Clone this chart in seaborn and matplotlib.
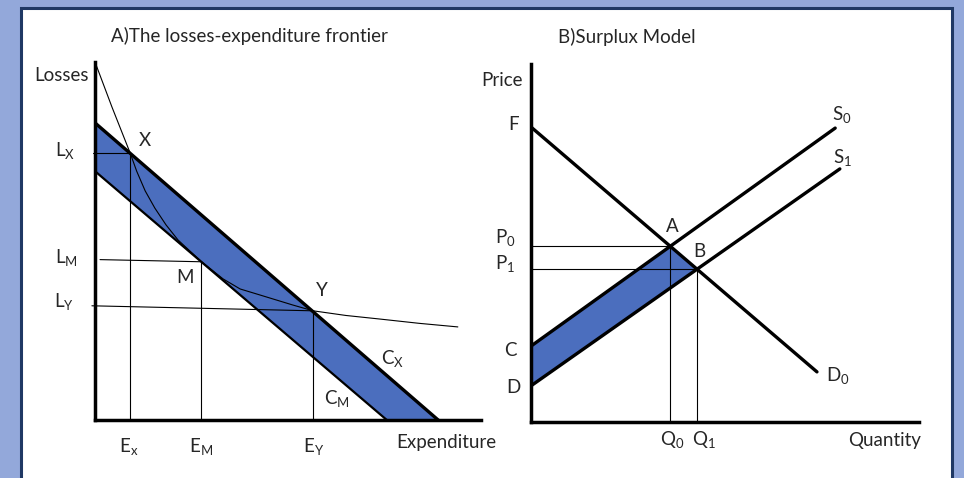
import numpy as np
import pandas as pd
import seaborn as sns
import matplotlib.pyplot as plt
from matplotlib.patches import Rectangle

# ---- panel A: losses-expenditure frontier (diagram units 0-100) ----
cx_line_x = [0, 88.9]
cx_line_y = [83.0, 0]
cm_line_x = [0, 75.6]
cm_line_y = [69.5, 0]
frontier_x = [0, 4.4, 9.1, 10.8, 13.0, 15.5, 18.4, 21.5, 27.5, 33.2, 37.6, 42.8,
              51.3, 56.5, 65.0, 73.8, 84.0, 94.0]
frontier_y = [100, 87.4, 74.6, 69.5, 64.0, 59.2, 54.5, 50.3, 44.3, 39.4, 36.6, 34.9,
              32.1, 30.5, 29.2, 28.2, 27.0, 26.0]
pt_x = (9.1, 74.6)
pt_m = (27.5, 44.2)
pt_y = (56.5, 30.5)
lm_start_y = 44.8
ly_start_y = 31.9

# ---- panel B: surplus model ----
demand_x = [0, 73.7]
demand_y = [82.4, 14.0]
s0_x = [0, 78.4]
s0_y = [21.2, 82.1]
s1_x = [0, 79.6]
s1_y = [10.1, 70.7]
pt_a = (35.8, 49.2)
pt_b = (42.8, 42.7)

BLUE = "#4B6EBE"
BG = "#93A8DA"
NAVY = "#1F3864"

sns.set_style("white")
plt.rcParams['font.family'] = ['Lato', 'DejaVu Sans']
plt.rcParams['mathtext.default'] = 'regular'

fig = plt.figure(figsize=(9.64, 4.78), dpi=100)
fig.patch.set_facecolor(BG)
fig.patches.append(Rectangle((21 / 964, -0.02), 931 / 964, 470 / 478 + 0.02,
                             transform=fig.transFigure, facecolor="white",
                             edgecolor=NAVY, linewidth=2.2, zorder=-10))

axA = fig.add_axes([95 / 964, 58 / 478, 386 / 964, 358 / 478])
axB = fig.add_axes([531 / 964, 56 / 478, 388 / 964, 358 / 478])

for ax in (axA, axB):
    ax.set_facecolor("none")
    ax.set_xlim(0, 100)
    ax.set_ylim(0, 100)
    ax.set_xticks([])
    ax.set_yticks([])
    sns.despine(ax=ax)
    for s in ("left", "bottom"):
        ax.spines[s].set_linewidth(2.5)
        ax.spines[s].set_color("black")

FS = 13.5
thin = dict(color="black", linewidth=0.8)
lab = dict(fontsize=FS, ha="center", va="center", clip_on=False)

# panel A
axA.fill([cx_line_x[0], cx_line_x[1], cm_line_x[1], cm_line_x[0]],
         [cx_line_y[0], cx_line_y[1], cm_line_y[1], cm_line_y[0]],
         color=BLUE, zorder=1, linewidth=0)
sns.lineplot(x=cx_line_x, y=cx_line_y, ax=axA, color="black", linewidth=2.4)
sns.lineplot(x=cm_line_x, y=cm_line_y, ax=axA, color="black", linewidth=1.6)
frontier = pd.DataFrame({"E": frontier_x, "L": frontier_y})
sns.lineplot(data=frontier, x="E", y="L", ax=axA, sort=False, **thin)
axA.plot([-0.6, pt_x[0]], [pt_x[1], pt_x[1]], clip_on=False, **thin)
axA.plot([1.3, pt_m[0]], [lm_start_y, pt_m[1]], **thin)
axA.plot([-0.8, pt_y[0]], [ly_start_y, pt_y[1]], clip_on=False, **thin)
for p in (pt_x, pt_m, pt_y):
    axA.plot([p[0], p[0]], [0, p[1]], **thin)

axA.text(-1.6, 96.1, "Losses", fontsize=FS, ha="right", va="center")
axA.text(-7.8, 75.4, "$L_X$", **lab)
axA.text(-7.3, 45.3, "$L_M$", **lab)
axA.text(-8.0, 33.0, "$L_Y$", **lab)
axA.text(13.0, 78.2, "X", **lab)
axA.text(23.3, 39.9, "M", **lab)
axA.text(58.8, 36.3, "Y", **lab)
axA.text(77.2, 17.3, "$C_X$", **lab)
axA.text(62.7, 6.1, "$C_M$", **lab)
axA.text(8.8, -7.5, "$E_x$", **lab)
axA.text(27.5, -7.5, "$E_M$", **lab)
axA.text(56.5, -7.5, "$E_Y$", **lab)
axA.text(90.9, -6.4, "Expenditure", **lab)
axA.text(39.9, 107.3, "A)The losses-expenditure frontier", **lab)

# panel B
axB.fill([s0_x[0], pt_a[0], pt_b[0], s1_x[0]],
         [s0_y[0], pt_a[1], pt_b[1], s1_y[0]],
         color=BLUE, zorder=1, linewidth=0)
sns.lineplot(x=demand_x, y=demand_y, ax=axB, color="black", linewidth=2.4)
sns.lineplot(x=s0_x, y=s0_y, ax=axB, color="black", linewidth=2.4)
sns.lineplot(x=s1_x, y=s1_y, ax=axB, color="black", linewidth=2.4)
for p in (pt_a, pt_b):
    axB.plot([0, p[0]], [p[1], p[1]], **thin)
    axB.plot([p[0], p[0]], [0, p[1]], **thin)

axB.text(-7.5, 95.5, "Price", **lab)
axB.text(-4.6, 83.2, "F", **lab)
axB.text(-6.7, 51.4, "$P_0$", **lab)
axB.text(-6.7, 44.4, "$P_1$", **lab)
axB.text(36.3, 54.5, "A", **lab)
axB.text(43.3, 47.5, "B", **lab)
axB.text(-5.4, 20.1, "C", **lab)
axB.text(-4.6, 9.5, "D", **lab)
axB.text(80.2, 85.8, "$S_0$", **lab)
axB.text(80.2, 74.0, "$S_1$", **lab)
axB.text(79.0, 13.1, "$D_0$", **lab)
axB.text(36.3, -5.0, "$Q_0$", **lab)
axB.text(44.6, -5.0, "$Q_1$", **lab)
axB.text(91.2, -5.3, "Quantity", **lab)
axB.text(24.7, 107.5, "B)Surplux Model", **lab)

fig.savefig("out.png", dpi=100, facecolor=BG)
